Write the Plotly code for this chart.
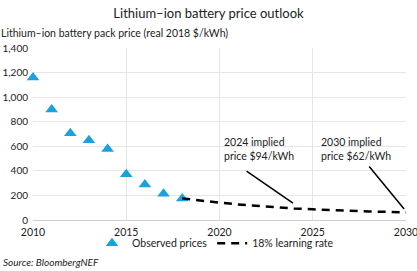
import plotly.graph_objects as go

obs_years = [2010, 2011, 2012, 2013, 2014, 2015, 2016, 2017, 2018]
obs_prices = [1160, 899, 707, 650, 577, 373, 288, 214, 176]

proj_years = [2018, 2019, 2020, 2021, 2022, 2023, 2024, 2025, 2026, 2027, 2028, 2029, 2030]
proj_prices = [176, 156, 141, 127, 115, 104, 94, 87, 80, 74, 70, 66, 62]

y_ticks = [0, 200, 400, 600, 800, 1000, 1200, 1400]
y_tick_labels = ["0", "200", "400", "600", "800", "1,000", "1,200", "1,400"]
x_ticks = [2010, 2015, 2020, 2025, 2030]

FONT = "Lato"

fig = go.Figure()
fig.add_trace(go.Scatter(
    x=obs_years, y=obs_prices, mode="markers", name="Observed prices",
    marker=dict(symbol="triangle-up", size=11, color="#1BA1DD"),
    cliponaxis=False,
))
fig.add_trace(go.Scatter(
    x=proj_years, y=proj_prices, mode="lines", name="18% learning rate",
    line=dict(color="black", width=2.5, dash="8px,6px"),
    cliponaxis=False,
))

fig.update_layout(
    width=417, height=271,
    margin=dict(l=33, r=11, t=48, b=51, autoexpand=False),
    paper_bgcolor="white", plot_bgcolor="white",
    font=dict(family=FONT, size=10, color="#222"),
    title=dict(text="Lithium\u2013ion battery price outlook", x=0.5, xanchor="center",
               y=1 - 13/271, yanchor="middle", font=dict(size=13, color="#222")),
    showlegend=True,
    legend=dict(orientation="h", x=0.5 - 4 / 373, xanchor="center",
                y=-0.135, yanchor="middle", font=dict(size=10.5),
                itemwidth=30, tracegroupgap=0, bgcolor="rgba(0,0,0,0)"),
    xaxis=dict(range=[2010, 2030], tickvals=x_ticks, showgrid=True,
               gridcolor="#e6e6e6", gridwidth=1, zeroline=False,
               showline=True, linecolor="#d0d0d0", linewidth=1,
               ticks="", tickfont=dict(size=10.5), ticklabelstandoff=2,
               ticklabeloverflow="allow", automargin=False),
    yaxis=dict(range=[0, 1400], tickvals=y_ticks, ticktext=y_tick_labels,
               showgrid=True, gridcolor="#e6e6e6", gridwidth=1, zeroline=False,
               showline=False, ticks="", tickfont=dict(size=10),
               ticklabelstandoff=4, ticklabeloverflow="allow", automargin=False),
)

fig.add_annotation(text="Lithium\u2013ion battery pack price (real 2018 $/kWh)",
                   xref="paper", yref="paper", x=-34/373, y=1 + 15/172,
                   xanchor="left", yanchor="middle", showarrow=False,
                   font=dict(size=10.5))
fig.add_annotation(text="<i>Source: BloombergNEF</i>", xref="paper", yref="paper",
                   x=-32/373, y=-42/172, xanchor="left", yanchor="middle",
                   showarrow=False, font=dict(size=10, color="#222"))

# label text
fig.add_annotation(text="2024 implied<br>price $94/kWh", x=2010 + (222 - 33) / 18.65,
                   y=(220 - 149) / 0.1229, xref="x", yref="y", xanchor="left",
                   yanchor="middle", align="left", showarrow=False,
                   font=dict(size=10.5))
fig.add_annotation(text="2030 implied<br>price $62/kWh", x=2010 + (319 - 33) / 18.65,
                   y=(220 - 149) / 0.1229, xref="x", yref="y", xanchor="left",
                   yanchor="middle", align="left", showarrow=False,
                   font=dict(size=10.5))
# pointer lines
fig.add_annotation(x=2023.94, y=138, ax=2021.37, ay=407, xref="x", yref="y",
                   axref="x", ayref="y", text="", showarrow=True, arrowhead=0,
                   arrowwidth=1.5, arrowcolor="black")
fig.add_annotation(x=2029.9, y=90, ax=2027.96, ay=448, xref="x", yref="y",
                   axref="x", ayref="y", text="", showarrow=True, arrowhead=0,
                   arrowwidth=1.5, arrowcolor="black")

post = (
    "document.documentElement.style.margin='0';"
    "document.documentElement.style.padding='0';"
    "document.body.style.margin='0';document.body.style.padding='0';"
    "document.body.style.overflow='hidden';"
    "var d=document.getElementById('{plot_id}');"
    "d.style.position='fixed';d.style.left='0px';d.style.top='0px';"
    "if(d.parentElement){d.parentElement.style.margin='0';}"
)
fig.write_html("out.html", config={"displayModeBar": False}, post_script=post)
